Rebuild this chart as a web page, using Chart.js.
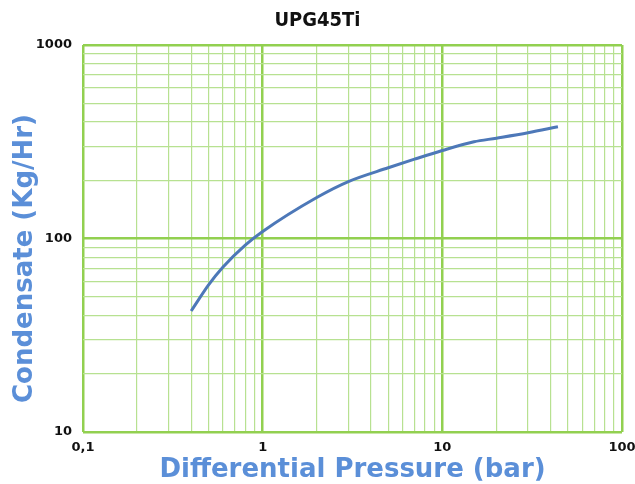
<!DOCTYPE html>
<html>
<head>
<meta charset="utf-8">
<script src="https://cdn.jsdelivr.net/npm/chart.js@4/dist/chart.umd.min.js"></script>
<style>
  html, body { margin: 0; padding: 0; background: #ffffff; }
  #wrap { width: 635px; height: 484px; }
</style>
</head>
<body>
<div id="wrap"><canvas id="chart" width="635" height="484"></canvas></div>
<script>
// Werte
const pressure = [0.4, 0.5, 0.6, 0.8, 1, 2, 3, 5, 7, 10, 15, 20, 30, 44];
const condensate = [42.2, 57.6, 71.1, 92.5, 108.8, 163, 197, 232, 257, 285, 316, 330, 352, 378];
const xTickValues = [0.1, 1, 10, 100];
const xTickLabels = ['0,1', '1', '10', '100'];
const yTickValues = [10, 100, 1000];
const yTickLabels = ['10', '100', '1000'];
const yAxisTitle = 'Condensate (Kg/Hr)';

const majorGrid = '#92d050';
const minorGrid = '#b7e191';
const titleBlue = '#5b8fd8';
const fontFamily = '"DejaVu Sans", sans-serif';
const titleFamily = '"DejaVu Sans Condensed", "DejaVu Sans", sans-serif';

// alle Zwischenwerte 1..9 je Dekade
function decadeTicks(min, max) {
    const out = [];
    for (let p = Math.log10(min); p < Math.log10(max); p++) {
        for (let m = 1; m < 10; m++) out.push({ value: m * Math.pow(10, p) });
    }
    out.push({ value: max });
    return out;
}

function isMajor(v, majors) {
    return majors.some(m => Math.abs(v - m) / m < 1e-6);
}

function labelFor(v, majors, labels) {
    const i = majors.findIndex(m => Math.abs(v - m) / m < 1e-6);
    return i >= 0 ? labels[i] : '';
}

// Y-Achsentitel etwas unterhalb der Mitte, wie im Original
const yTitlePlugin = {
    id: 'yTitle',
    afterDraw(chart) {
        const c = chart.ctx;
        const area = chart.chartArea;
        c.save();
        c.translate(25, (area.top + area.bottom) / 2 + 20);
        c.rotate(-Math.PI / 2);
        c.font = 'bold 26px ' + fontFamily;
        c.fillStyle = titleBlue;
        c.textAlign = 'center';
        c.textBaseline = 'middle';
        c.fillText(yAxisTitle, 0, 0);
        c.restore();
    }
};

const ctx = document.getElementById('chart').getContext('2d');
new Chart(ctx, {
    type: 'line',
    data: {
        datasets: [{
            data: pressure.map((p, i) => ({ x: p, y: condensate[i] })),
            borderColor: '#4d78b8',
            borderWidth: 3,
            pointRadius: 0,
            cubicInterpolationMode: 'monotone',
            fill: false
        }]
    },
    plugins: [yTitlePlugin],
    options: {
        responsive: false,
        animation: false,
        layout: { padding: 0 },
        plugins: {
            legend: { display: false },
            tooltip: { enabled: false },
            title: {
                display: true,
                text: 'UPG45Ti',
                color: '#111111',
                font: { family: titleFamily, size: 20, weight: 'bold', lineHeight: 1.2 },
                padding: { top: 9, bottom: 12 }
            }
        },
        scales: {
            x: {
                type: 'logarithmic',
                min: 0.1,
                max: 100,
                afterBuildTicks: s => { s.ticks = decadeTicks(0.1, 100); },
                afterFit: s => { s.height = 52; s.paddingLeft = 0; s.paddingRight = 13; },
                border: { display: false },
                grid: {
                    drawTicks: false,
                    color: c => isMajor(c.tick.value, xTickValues) ? majorGrid : minorGrid,
                    lineWidth: c => isMajor(c.tick.value, xTickValues) ? 2.5 : 1.2
                },
                ticks: {
                    autoSkip: false,
                    maxRotation: 0,
                    padding: 8,
                    color: '#111111',
                    font: { family: fontFamily, size: 13, weight: 'bold' },
                    callback: v => labelFor(v, xTickValues, xTickLabels)
                },
                title: {
                    display: true,
                    text: 'Differential Pressure (bar)',
                    color: titleBlue,
                    font: { family: fontFamily, size: 26, weight: 'bold', lineHeight: 1.05 },
                    padding: { top: 0, bottom: 0 }
                }
            },
            y: {
                type: 'logarithmic',
                min: 10,
                max: 1000,
                afterBuildTicks: s => { s.ticks = decadeTicks(10, 1000); },
                afterFit: s => { s.width = 83; },
                border: { display: false },
                grid: {
                    drawTicks: false,
                    color: c => isMajor(c.tick.value, yTickValues) ? majorGrid : minorGrid,
                    lineWidth: c => isMajor(c.tick.value, yTickValues) ? 2.5 : 1.2
                },
                ticks: {
                    autoSkip: false,
                    padding: 11,
                    color: '#111111',
                    font: { family: fontFamily, size: 13, weight: 'bold' },
                    callback: v => labelFor(v, yTickValues, yTickLabels)
                },
                title: { display: false }
            }
        }
    }
});
</script>
</body>
</html>
